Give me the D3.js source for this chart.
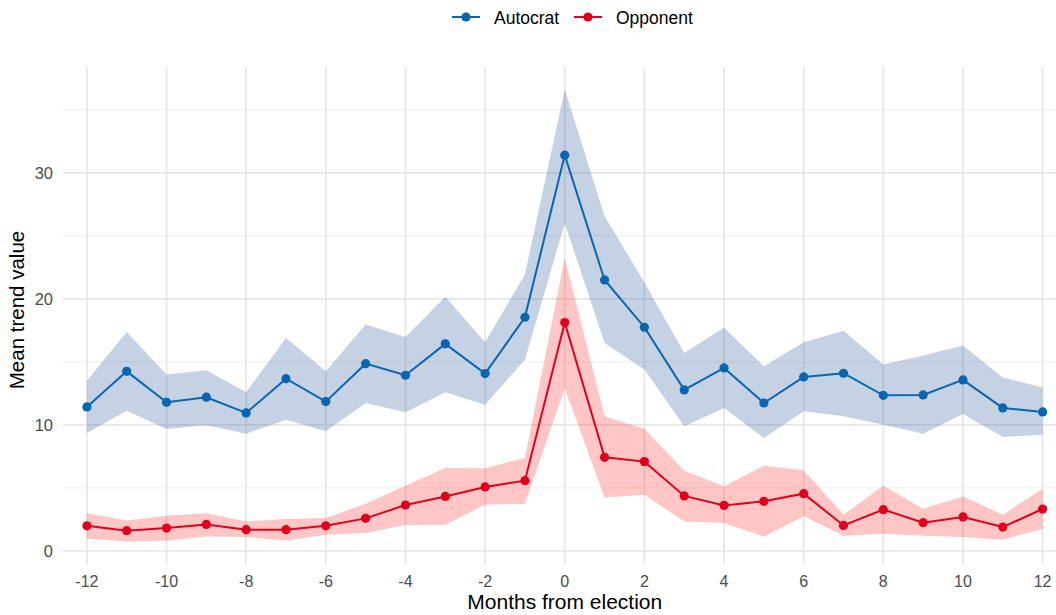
<!DOCTYPE html>
<html>
<head>
<meta charset="utf-8">
<script src="https://cdn.jsdelivr.net/npm/d3@7"></script>
<style>
  html, body { margin: 0; padding: 0; background: #fff; }
  svg { display: block; font-family: "Liberation Sans", Arial, sans-serif; }
</style>
</head>
<body>
<svg id="chart" width="1056" height="615"></svg>
<script>
// months relative to election
const months = [-12,-11,-10,-9,-8,-7,-6,-5,-4,-3,-2,-1,0,1,2,3,4,5,6,7,8,9,10,11,12];

const autocratMean  = [11.43,14.25,11.8,12.2,10.95,13.67,11.85,14.86,13.94,16.43,14.07,18.54,31.4,21.5,17.75,12.78,14.52,11.74,13.81,14.1,12.35,12.38,13.57,11.35,11.03];
const autocratUpper = [13.5,17.38,14.0,14.33,12.6,16.9,14.25,17.96,16.98,20.16,16.56,21.93,36.6,26.56,21.3,15.7,17.7,14.65,16.56,17.48,14.79,15.5,16.3,13.77,12.97];
const autocratLower = [9.37,11.13,9.68,9.97,9.31,10.42,9.5,11.74,11.0,12.59,11.61,15.18,26.0,16.5,14.4,9.9,11.35,8.97,11.08,10.68,10.02,9.31,10.87,9.05,9.23];

const opponentMean  = [2.0,1.61,1.82,2.11,1.69,1.69,2.0,2.59,3.65,4.33,5.08,5.58,18.12,7.43,7.09,4.37,3.62,3.94,4.55,2.03,3.28,2.25,2.7,1.9,3.33];
const opponentUpper = [3.0,2.43,2.8,3.0,2.35,2.54,2.62,3.75,5.18,6.59,6.56,7.38,23.25,10.68,9.68,6.37,5.13,6.77,6.4,2.88,5.18,3.36,4.33,2.88,4.94];
const opponentLower = [0.98,0.76,0.84,1.16,1.11,0.84,1.29,1.43,2.06,2.09,3.67,3.75,12.9,4.25,4.47,2.35,2.22,1.16,2.75,1.21,1.37,1.21,1.11,0.9,1.75];

const xTicks = [-12,-10,-8,-6,-4,-2,0,2,4,6,8,10,12];
const yTicks = [0,10,20,30];
const yMinor = [5,15,25,35];

const series = [
  { name: "Autocrat", mean: autocratMean, lo: autocratLower, hi: autocratUpper,
    line: "#0865ae", band: "#3b6aa6", bandOpacity: 0.3 },
  { name: "Opponent", mean: opponentMean, lo: opponentLower, hi: opponentUpper,
    line: "#e0001b", band: "#ff1a1a", bandOpacity: 0.25 }
];

const svg = d3.select("#chart");
const plotLeft = 63, plotRight = 1066.5, plotTop = 67, plotBottom = 564;

const x = d3.scaleLinear().domain([-12.6, 12.6]).range([plotLeft, plotRight]);
const y = d3.scaleLinear().domain([-1.03, 38.39]).range([plotBottom, plotTop]);

// grid
const grid = svg.append("g");
grid.selectAll(".ymin").data(yMinor).enter().append("line")
  .attr("x1", plotLeft).attr("x2", plotRight)
  .attr("y1", d => y(d)).attr("y2", d => y(d))
  .attr("stroke", "#ededed").attr("stroke-width", 1);
grid.selectAll(".ymaj").data(yTicks).enter().append("line")
  .attr("x1", plotLeft).attr("x2", plotRight)
  .attr("y1", d => y(d)).attr("y2", d => y(d))
  .attr("stroke", "#e6e6e6").attr("stroke-width", 1.7);
grid.selectAll(".xmaj").data(xTicks).enter().append("line")
  .attr("x1", d => x(d)).attr("x2", d => x(d))
  .attr("y1", plotTop).attr("y2", plotBottom)
  .attr("stroke", "#e6e6e6").attr("stroke-width", 1.7);

// ribbons
series.forEach(s => {
  const area = d3.area()
    .x((d, i) => x(months[i]))
    .y0((d, i) => y(s.lo[i]))
    .y1((d, i) => y(s.hi[i]));
  svg.append("path").datum(s.mean)
    .attr("d", area)
    .attr("fill", s.band)
    .attr("fill-opacity", s.bandOpacity);
});

// lines and points
series.forEach(s => {
  const line = d3.line()
    .x((d, i) => x(months[i]))
    .y(d => y(d));
  svg.append("path").datum(s.mean)
    .attr("d", line)
    .attr("fill", "none")
    .attr("stroke", s.line)
    .attr("stroke-width", 2);
  svg.append("g").selectAll("circle").data(s.mean).enter().append("circle")
    .attr("cx", (d, i) => x(months[i]))
    .attr("cy", d => y(d))
    .attr("r", 4.6)
    .attr("fill", s.line);
});

// axis labels
svg.append("g").selectAll("text").data(xTicks).enter().append("text")
  .attr("x", d => x(d)).attr("y", 587)
  .attr("text-anchor", "middle")
  .attr("font-size", 16).attr("fill", "#4d4d4d")
  .text(d => d);

svg.append("g").selectAll("text").data(yTicks).enter().append("text")
  .attr("x", 53).attr("y", d => y(d) + 6)
  .attr("text-anchor", "end")
  .attr("font-size", 16.5).attr("fill", "#4d4d4d")
  .text(d => d);

svg.append("text")
  .attr("x", x(0)).attr("y", 609)
  .attr("text-anchor", "middle")
  .attr("font-size", 21).attr("fill", "#000")
  .text("Months from election");

svg.append("text")
  .attr("transform", "translate(24,310) rotate(-90)")
  .attr("text-anchor", "middle")
  .attr("font-size", 20.5).attr("fill", "#000")
  .text("Mean trend value");

// legend
const legend = svg.append("g");
const legendX = [452, 574];
series.forEach((s, i) => {
  const g = legend.append("g").attr("transform", `translate(${legendX[i]},17)`);
  g.append("line").attr("x1", 0).attr("x2", 28).attr("y1", 0).attr("y2", 0)
    .attr("stroke", s.line).attr("stroke-width", 2);
  g.append("circle").attr("cx", 14).attr("cy", 0).attr("r", 4.6).attr("fill", s.line);
  g.append("text").attr("x", 42).attr("y", 6.5)
    .attr("font-size", 17.5).attr("fill", "#000")
    .text(s.name);
});
</script>
</body>
</html>
